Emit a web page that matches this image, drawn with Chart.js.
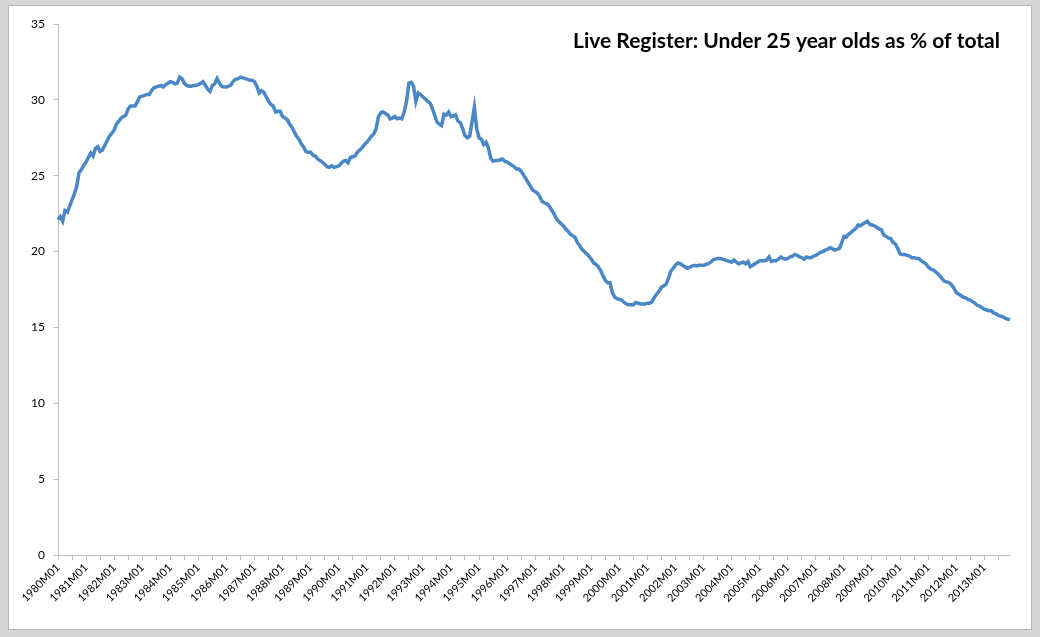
<!DOCTYPE html>
<html>
<head>
<meta charset="utf-8">
<title>Live Register: Under 25 year olds as % of total</title>
<script src="https://cdn.jsdelivr.net/npm/chart.js@4.4.1/dist/chart.umd.min.js"></script>
<style>
  html, body { margin: 0; padding: 0; background: #d6d6d6; }
  #frame {
    position: absolute; left: 8px; top: 5px; width: 1022px; height: 623px;
    background: #fff; border: 1px solid #b4b4b4;
  }
  #chart { position: absolute; left: 0; top: 0; }
</style>
</head>
<body>
<div id="frame"></div>
<canvas id="chart" width="1040" height="637"></canvas>
<script>
// Years on the axis (monthly data, Jan 1980 - Dec 2013)
const years = [1980, 1981, 1982, 1983, 1984, 1985, 1986, 1987, 1988, 1989,
  1990, 1991, 1992, 1993, 1994, 1995, 1996, 1997, 1998, 1999,
  2000, 2001, 2002, 2003, 2004, 2005, 2006, 2007, 2008, 2009,
  2010, 2011, 2012, 2013];

// Under 25s as % of live register, one row per year (M01..M12)
const under25Share = [
  22.1, 22.3, 22.0, 22.7, 22.6, 23.0, 23.4, 23.8, 24.3, 25.2, 25.4, 25.7,   // 1980
  25.9, 26.2, 26.5, 26.3, 26.8, 26.9, 26.6, 26.7, 27.0, 27.3, 27.6, 27.8,   // 1981
  28.0, 28.4, 28.6, 28.8, 28.9, 29.0, 29.4, 29.6, 29.6, 29.6, 29.9, 30.2,   // 1982
  30.25, 30.3, 30.35, 30.35, 30.6, 30.8, 30.85, 30.9, 30.95, 30.85, 31.0, 31.1, // 1983
  31.2, 31.15, 31.05, 31.1, 31.5, 31.4, 31.1, 30.95, 30.9, 30.9, 30.95, 30.95, // 1984
  31.0, 31.1, 31.2, 30.95, 30.7, 30.55, 30.95, 31.05, 31.4, 31.1, 30.9, 30.85, // 1985
  30.85, 30.9, 31.0, 31.25, 31.35, 31.4, 31.5, 31.45, 31.4, 31.35, 31.3, 31.3, // 1986
  31.2, 30.9, 30.45, 30.6, 30.5, 30.2, 29.9, 29.7, 29.6, 29.2, 29.25, 29.25, // 1987
  28.9, 28.8, 28.7, 28.4, 28.2, 27.9, 27.6, 27.4, 27.1, 26.9, 26.6, 26.55,  // 1988
  26.55, 26.35, 26.3, 26.1, 26.0, 25.9, 25.75, 25.6, 25.55, 25.65, 25.55, 25.6, // 1989
  25.65, 25.8, 25.95, 26.0, 25.85, 26.2, 26.25, 26.3, 26.55, 26.7, 26.85, 27.05, // 1990
  27.2, 27.4, 27.6, 27.75, 28.1, 28.9, 29.15, 29.2, 29.1, 29.0, 28.75, 28.8, // 1991
  28.9, 28.75, 28.8, 28.75, 29.2, 29.9, 31.1, 31.15, 30.9, 29.9, 30.45, 30.35, // 1992
  30.2, 30.05, 29.9, 29.8, 29.45, 29.0, 28.55, 28.4, 28.3, 29.05, 29.0, 29.2, // 1993
  28.9, 28.95, 29.0, 28.6, 28.5, 28.1, 27.65, 27.5, 27.6, 28.55, 29.5, 28.1, // 1994
  27.5, 27.4, 27.05, 27.2, 26.85, 26.15, 25.95, 26.0, 26.0, 26.05, 26.1, 25.95, // 1995
  25.9, 25.8, 25.7, 25.6, 25.45, 25.45, 25.3, 25.05, 24.8, 24.55, 24.3, 24.05, // 1996
  23.95, 23.85, 23.6, 23.3, 23.2, 23.15, 23.0, 22.75, 22.5, 22.2, 22.0, 21.85, // 1997
  21.7, 21.5, 21.35, 21.15, 21.05, 20.95, 20.6, 20.4, 20.15, 20.0, 19.85, 19.7, // 1998
  19.5, 19.25, 19.15, 19.0, 18.75, 18.4, 18.1, 17.95, 17.95, 17.3, 17.0, 16.9, // 1999
  16.85, 16.8, 16.65, 16.55, 16.5, 16.5, 16.5, 16.65, 16.6, 16.55, 16.55, 16.55, // 2000
  16.6, 16.6, 16.7, 17.0, 17.2, 17.4, 17.65, 17.75, 17.85, 18.25, 18.7, 18.9, // 2001
  19.1, 19.25, 19.2, 19.1, 19.0, 18.9, 18.95, 19.05, 19.1, 19.05, 19.1, 19.1, // 2002
  19.1, 19.15, 19.2, 19.3, 19.45, 19.5, 19.55, 19.55, 19.5, 19.45, 19.4, 19.35, // 2003
  19.3, 19.45, 19.3, 19.2, 19.25, 19.3, 19.2, 19.35, 19.0, 19.1, 19.2, 19.3, // 2004
  19.4, 19.4, 19.4, 19.45, 19.65, 19.35, 19.4, 19.4, 19.5, 19.65, 19.55, 19.5, // 2005
  19.55, 19.65, 19.7, 19.8, 19.75, 19.65, 19.6, 19.5, 19.65, 19.6, 19.6, 19.7, // 2006
  19.75, 19.85, 19.95, 20.0, 20.1, 20.15, 20.25, 20.2, 20.1, 20.15, 20.2, 20.55, // 2007
  21.0, 20.95, 21.15, 21.25, 21.4, 21.5, 21.75, 21.7, 21.8, 21.9, 22.0, 21.8, // 2008
  21.75, 21.7, 21.6, 21.5, 21.45, 21.1, 21.0, 20.9, 20.85, 20.6, 20.5, 20.2, // 2009
  19.85, 19.8, 19.8, 19.75, 19.7, 19.6, 19.6, 19.55, 19.55, 19.4, 19.3, 19.2, // 2010
  19.0, 18.85, 18.8, 18.7, 18.55, 18.4, 18.2, 18.05, 18.0, 17.95, 17.8, 17.6, // 2011
  17.3, 17.2, 17.1, 17.0, 16.95, 16.85, 16.8, 16.7, 16.6, 16.45, 16.4, 16.3, // 2012
  16.2, 16.15, 16.1, 16.1, 15.95, 15.9, 15.8, 15.75, 15.7, 15.6, 15.55, 15.5  // 2013
];

const yTicks = [0, 5, 10, 15, 20, 25, 30, 35];
const chartTitle = 'Live Register: Under 25 year olds as % of total';

// 1980M01, 1980M02, ...
const monthLabels = [];
years.forEach(y => {
  for (let m = 1; m <= 12; m++) {
    monthLabels.push(y + 'M' + String(m).padStart(2, '0'));
  }
});

const axisGrey = '#bfbfbf';
const fontFamily = 'Lato, "Open Sans", sans-serif';

// Title sits inside the plot, top right
const titlePlugin = {
  id: 'insideTitle',
  afterDraw(chart) {
    const { ctx, chartArea } = chart;
    ctx.save();
    ctx.font = 'bold 21px ' + fontFamily;
    ctx.fillStyle = '#000';
    ctx.textAlign = 'right';
    ctx.textBaseline = 'middle';
    ctx.fillText(chartTitle, chartArea.right - 10, chartArea.top + 17);
    ctx.restore();
  }
};

new Chart(document.getElementById('chart'), {
  type: 'line',
  data: {
    labels: monthLabels,
    datasets: [{
      label: 'Under 25s %',
      data: under25Share,
      borderColor: '#4a87c7',
      borderWidth: 3.5,
      pointRadius: 0,
      tension: 0,
      fill: false
    }]
  },
  options: {
    responsive: false,
    animation: false,
    layout: { padding: { left: 10, right: 30, top: 24, bottom: 12 } },
    plugins: {
      legend: { display: false },
      tooltip: { enabled: false }
    },
    scales: {
      x: {
        type: 'category',
        offset: false,
        afterFit: (scale) => {
          scale.height = 70;
          scale.paddingLeft = 0;
          scale.paddingRight = 0;
        },
        border: { display: true, color: axisGrey, width: 1 },
        grid: {
          drawOnChartArea: false,
          drawTicks: true,
          tickLength: 5,
          color: (ctx) => (ctx.index % 6 === 0 ? axisGrey : 'rgba(0,0,0,0)')
        },
        ticks: {
          autoSkip: false,
          minRotation: 45,
          maxRotation: 45,
          padding: 1,
          color: '#000',
          font: { family: fontFamily, size: 11 },
          callback: (value, index) => (index % 12 === 0 ? monthLabels[index] : '')
        }
      },
      y: {
        min: 0,
        max: 35,
        afterFit: (scale) => { scale.width = 48; },
        afterBuildTicks: (scale) => { scale.ticks = yTicks.map(v => ({ value: v })); },
        border: { display: true, color: axisGrey, width: 1 },
        grid: {
          drawOnChartArea: false,
          drawTicks: true,
          tickLength: 5,
          color: axisGrey
        },
        ticks: {
          padding: 8,
          color: '#000',
          font: { family: fontFamily, size: 12 }
        }
      }
    }
  },
  plugins: [titlePlugin]
});
</script>
</body>
</html>
